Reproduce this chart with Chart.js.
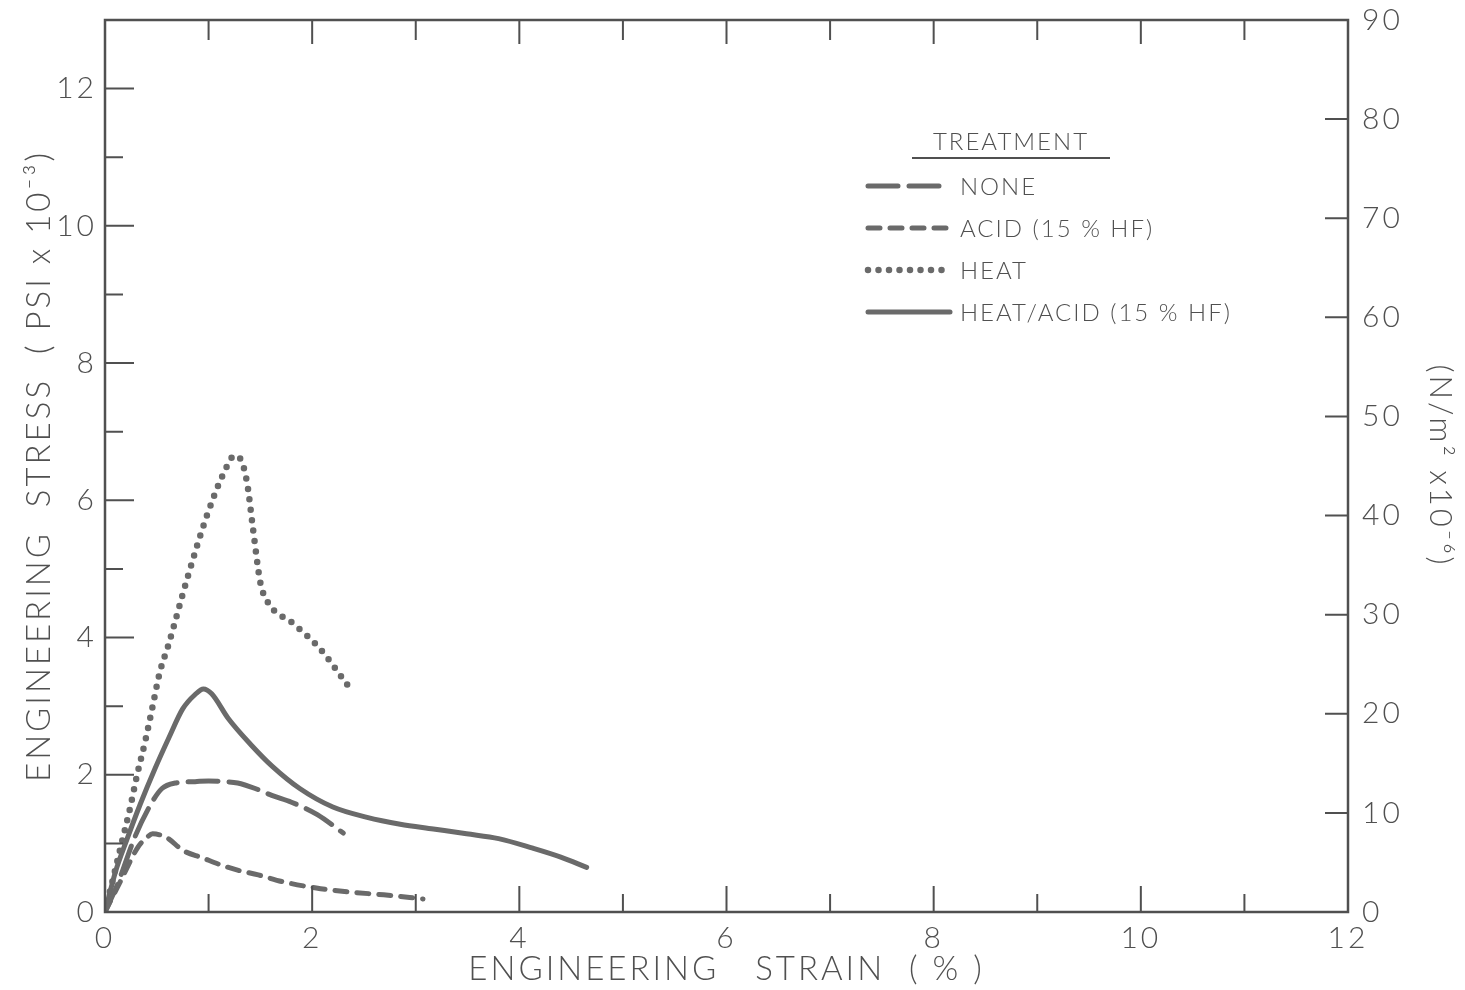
<!DOCTYPE html>
<html>
<head>
<meta charset="utf-8">
<script src="https://cdn.jsdelivr.net/npm/chart.js@4/dist/chart.umd.min.js"></script>
<style>
  body { margin: 0; background: #fff; }
</style>
</head>
<body>
<canvas id="stress" width="1465" height="990"></canvas>
<script>
// strain in %, stress in psi x 10^-3
var noneStrain = [0, 0.12, 0.29, 0.45, 0.55, 0.68, 0.87, 1.0, 1.16, 1.28, 1.45, 1.61, 1.8, 2.05, 2.3];
var noneStress = [0, 0.4, 1.1, 1.59, 1.8, 1.88, 1.9, 1.91, 1.9, 1.88, 1.8, 1.7, 1.6, 1.42, 1.15];

var acidStrain = [0, 0.15, 0.32, 0.4, 0.46, 0.6, 0.75, 0.94, 1.11, 1.28, 1.48, 1.72, 2.04, 2.37, 2.69, 3.07];
var acidStress = [0, 0.45, 0.95, 1.08, 1.14, 1.08, 0.9, 0.79, 0.69, 0.61, 0.54, 0.44, 0.35, 0.29, 0.25, 0.19];

var heatStrain = [0, 0.16, 0.24, 0.31, 0.39, 0.46, 0.53, 0.61, 0.79, 0.98, 1.15, 1.25, 1.3, 1.37, 1.43, 1.5, 1.57, 1.82, 2.08, 2.34];
var heatStress = [0, 1.0, 1.5, 2.0, 2.5, 3.0, 3.5, 3.88, 4.84, 5.76, 6.41, 6.65, 6.62, 6.27, 5.57, 4.8, 4.52, 4.2, 3.83, 3.31];

var heatAcidStrain = [0, 0.1, 0.21, 0.34, 0.48, 0.62, 0.75, 0.87, 0.95, 1.03, 1.19, 1.42, 1.61, 1.88, 2.2, 2.53, 2.85, 3.17, 3.49, 3.8, 4.13, 4.4, 4.65];
var heatAcidStress = [0, 0.58, 1.05, 1.57, 2.08, 2.55, 2.96, 3.17, 3.25, 3.18, 2.82, 2.42, 2.13, 1.8, 1.53, 1.38, 1.28, 1.21, 1.14, 1.07, 0.93, 0.8, 0.65];

var treatments = ["NONE", "ACID (15 % HF)", "HEAT", "HEAT/ACID (15 % HF)"];

var strainMax = 12;
var psiMax = 13;
var pascalMax = 90;

var ink = '#505050';
var curveGray = '#6a6a6a';
var face = 'Lato, "DejaVu Sans", sans-serif';

function toPoints(xs, ys) {
    var pts = [];
    for (var i = 0; i < xs.length; i++)
        pts.push({ x: xs[i], y: ys[i] });
    return pts;
}

// letter spaced lettering, like the stencil text of the original
const spacing = {
    id: 'spacing',
    beforeLayout: (chart) => { chart.ctx.letterSpacing = '3px'; },
    beforeDraw: (chart) => { chart.ctx.letterSpacing = '3px'; }
};

// box round the plot plus the inward tick marks on all four sides
const frame = {
    id: 'frame',
    afterDraw: (chart) => {
        var ctx = chart.ctx;
        var x = chart.scales.x, y = chart.scales.y, y2 = chart.scales.y2;
        var L = x.getPixelForValue(0), R = x.getPixelForValue(strainMax);
        var B = y.getPixelForValue(0), T = y.getPixelForValue(psiMax);
        ctx.save();
        ctx.strokeStyle = ink;
        ctx.lineWidth = 2.5;
        ctx.strokeRect(L, T, R - L, B - T);
        ctx.lineWidth = 2;
        ctx.beginPath();
        for (var i = 1; i < strainMax; i++) {
            var px = x.getPixelForValue(i);
            var len = i % 2 === 0 ? 26 : 18;
            ctx.moveTo(px, B); ctx.lineTo(px, B - len);
            ctx.moveTo(px, T); ctx.lineTo(px, T + (i % 2 === 0 ? 24 : 20));
        }
        for (var j = 1; j < psiMax; j++) {
            var py = y.getPixelForValue(j);
            ctx.moveTo(L, py); ctx.lineTo(L + (j % 2 === 0 ? 29 : 18), py);
        }
        for (var k = 10; k < pascalMax; k += 10) {
            var py2 = y2.getPixelForValue(k);
            ctx.moveTo(R, py2); ctx.lineTo(R - 23, py2);
        }
        ctx.stroke();
        ctx.restore();
    }
};

// the hand lettered key in the upper right
const key = {
    id: 'key',
    afterDraw: (chart) => {
        var ctx = chart.ctx;
        var left = chart.chartArea.left;
        var top = chart.chartArea.top;
        ctx.save();
        ctx.letterSpacing = '2px';
        ctx.fillStyle = ink;
        ctx.font = '300 24px ' + face;
        ctx.textBaseline = 'middle';
        ctx.textAlign = 'center';
        ctx.fillText('TREATMENT', left + 906, top + 122);
        ctx.strokeStyle = ink;
        ctx.lineWidth = 2;
        ctx.beginPath();
        ctx.moveTo(left + 807, top + 138);
        ctx.lineTo(left + 1005, top + 138);
        ctx.stroke();
        ctx.textAlign = 'left';
        chart.data.datasets.forEach((ds, i) => {
            var yy = top + 166 + i * 42;
            ctx.save();
            ctx.strokeStyle = ds.borderColor;
            ctx.lineWidth = ds.borderWidth;
            ctx.lineCap = ds.borderCapStyle || 'butt';
            ctx.setLineDash(ds.borderDash || []);
            ctx.beginPath();
            ctx.moveTo(left + 763, yy);
            ctx.lineTo(left + 845, yy);
            ctx.stroke();
            ctx.restore();
            ctx.fillText(ds.label, left + 855, yy + 1);
        });
        ctx.restore();
    }
};

var tickFont = { family: face, size: 30, weight: 300 };
var titleFont = { family: face, size: 33, weight: 300 };

new Chart(document.getElementById('stress'), {
    type: 'line',
    data: {
        datasets: [{
            label: treatments[0],
            data: toPoints(noneStrain, noneStress),
            borderColor: curveGray,
            borderWidth: 5,
            borderDash: [30, 11],
            borderCapStyle: 'round'
        }, {
            label: treatments[1],
            data: toPoints(acidStrain, acidStress),
            borderColor: curveGray,
            borderWidth: 5,
            borderDash: [12, 10],
            borderCapStyle: 'round'
        }, {
            label: treatments[2],
            data: toPoints(heatStrain, heatStress),
            borderColor: curveGray,
            borderWidth: 6.5,
            borderDash: [0, 10.5],
            borderCapStyle: 'round'
        }, {
            label: treatments[3],
            data: toPoints(heatAcidStrain, heatAcidStress),
            borderColor: curveGray,
            borderWidth: 5,
            borderCapStyle: 'round'
        }]
    },
    options: {
        responsive: false,
        animation: false,
        layout: { padding: { top: 20 } },
        elements: {
            point: { radius: 0 },
            line: { cubicInterpolationMode: 'monotone' }
        },
        plugins: {
            legend: { display: false },
            tooltip: { enabled: false }
        },
        scales: {
            x: {
                type: 'linear',
                position: 'bottom',
                min: 0,
                max: strainMax,
                grid: { display: false, drawTicks: false },
                border: { display: false },
                ticks: {
                    stepSize: 1,
                    autoSkip: false,
                    maxRotation: 0,
                    padding: 8,
                    color: ink,
                    font: tickFont,
                    callback: v => v % 2 === 0 ? v : ''
                },
                title: {
                    display: true,
                    text: 'ENGINEERING   STRAIN  ( % )',
                    color: ink,
                    font: titleFont,
                    padding: { top: 0, bottom: 1 }
                },
                afterFit: s => { s.height = 78; s.paddingLeft = 0; s.paddingRight = 0; }
            },
            y: {
                type: 'linear',
                position: 'left',
                min: 0,
                max: psiMax,
                grid: { display: false, drawTicks: false },
                border: { display: false },
                ticks: {
                    stepSize: 1,
                    autoSkip: false,
                    padding: 8,
                    color: ink,
                    font: tickFont,
                    callback: v => (v % 2 === 0 && v < psiMax) ? v : ''
                },
                title: {
                    display: true,
                    text: 'ENGINEERING  STRESS  ( PSI x 10⁻³)',
                    color: ink,
                    font: titleFont,
                    padding: { top: 20, bottom: 0 }
                },
                afterFit: s => { s.width = 105; s.paddingTop = 0; s.paddingBottom = 0; }
            },
            y2: {
                type: 'linear',
                position: 'right',
                min: 0,
                max: pascalMax,
                grid: { display: false, drawTicks: false },
                border: { display: false },
                ticks: {
                    stepSize: 10,
                    autoSkip: false,
                    padding: 14,
                    color: ink,
                    font: tickFont
                },
                title: {
                    display: true,
                    text: '(N/m² x10⁻⁶)',
                    color: ink,
                    font: { family: face, size: 31, weight: 300 },
                    padding: { top: 6, bottom: 0 }
                },
                afterFit: s => { s.width = 117; s.paddingTop = 0; s.paddingBottom = 0; }
            }
        }
    },
    plugins: [spacing, frame, key]
});
</script>
</body>
</html>
